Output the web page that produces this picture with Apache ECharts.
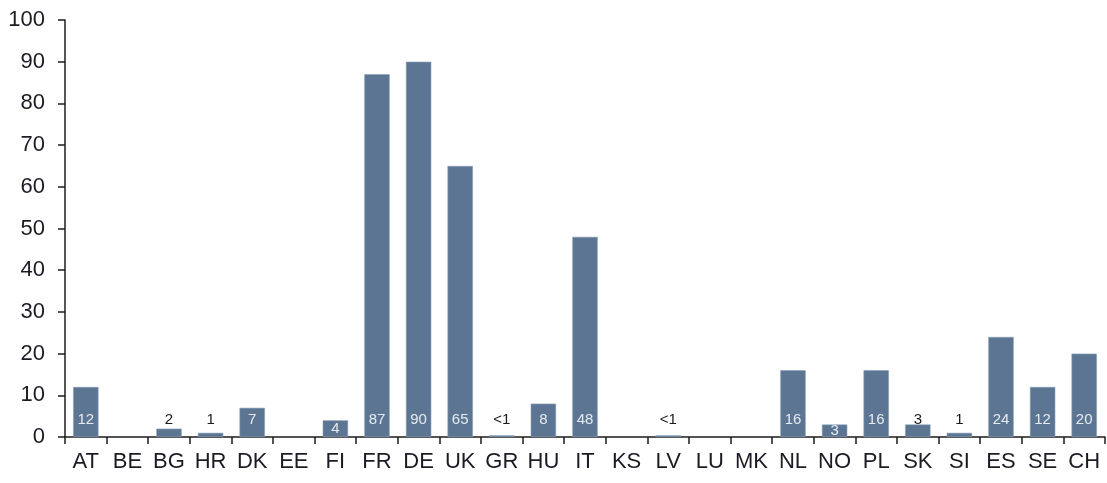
<!DOCTYPE html>
<html>
<head>
<meta charset="utf-8">
<script src="https://cdn.jsdelivr.net/npm/echarts@6/dist/echarts.min.js"></script>
<style>
  html, body { margin: 0; padding: 0; background: #ffffff; }
  #chart { width: 1107px; height: 483px; }
</style>
</head>
<body>
<div id="chart"></div>
<script>
// Country codes along the x axis
const countries = ['AT', 'BE', 'BG', 'HR', 'DK', 'EE', 'FI', 'FR', 'DE', 'UK', 'GR', 'HU', 'IT',
  'KS', 'LV', 'LU', 'MK', 'NL', 'NO', 'PL', 'SK', 'SI', 'ES', 'SE', 'CH'];

// Bar values (null = no bar)
const values = [12, null, 2, 1, 7, null, 4, 87, 90, 65, 0.4, 8, 48,
  null, 0.4, null, null, 16, 3, 16, 3, 1, 24, 12, 20];

// Text printed on each bar ('' = none)
const valueLabels = ['12', '', '2', '1', '7', '', '4', '87', '90', '65', '<1', '8', '48',
  '', '<1', '', '', '16', '3', '16', '3', '1', '24', '12', '20'];

// Where each label sits: 'b' near the bar foot (light), 'c' centred in the bar (light),
// 'a' above a very short bar (dark)
const labelPlace = ['b', '', 'a', 'a', 'b', '', 'c', 'b', 'b', 'b', 'a', 'b', 'b',
  '', 'a', '', '', 'b', 'c', 'b', 'a', 'a', 'b', 'b', 'b'];

// Y axis ticks
const yMin = 0, yMax = 100, yStep = 10;

const narrow = "'Liberation Sans Narrow', 'Arial Narrow', 'Liberation Sans', Arial, sans-serif";
const barColor = '#5b7593';
const axisColor = '#1c1c1c';

const chart = echarts.init(document.getElementById('chart'), null, { renderer: 'canvas' });

const seriesData = values.map((v, i) => ({
  value: v,
  label: {
    formatter: valueLabels[i],
    position: labelPlace[i] === 'c' ? 'inside' : 'insideBottom',
    color: labelPlace[i] === 'a' ? '#1a1a1a' : '#e6ebf2'
  }
}));

chart.setOption({
  animation: false,
  backgroundColor: '#ffffff',
  grid: { left: 65, right: 2, top: 20, bottom: 46, containLabel: false },
  xAxis: {
    type: 'category',
    data: countries,
    boundaryGap: true,
    axisLine: { show: true, lineStyle: { color: axisColor, width: 1.5 } },
    axisTick: { show: true, alignWithLabel: false, length: 7, lineStyle: { color: axisColor, width: 1.5 } },
    axisLabel: { color: '#1e1a24', fontFamily: narrow, fontSize: 22, margin: 14, interval: 0 },
    splitLine: { show: false }
  },
  yAxis: {
    type: 'value',
    min: yMin,
    max: yMax,
    interval: yStep,
    axisLine: { show: true, lineStyle: { color: axisColor, width: 1.5 } },
    axisTick: { show: true, length: 7, lineStyle: { color: axisColor, width: 1.5 } },
    axisLabel: { color: '#1e1a24', fontFamily: narrow, fontSize: 22, margin: 20 },
    splitLine: { show: false }
  },
  series: [{
    type: 'bar',
    data: seriesData,
    barWidth: '61%',
    itemStyle: { color: barColor, borderColor: '#8aa0b8', borderWidth: 0.6 },
    label: {
      show: true,
      position: 'insideBottom',
      distance: 10,
      fontFamily: narrow,
      fontSize: 15
    }
  }]
});
</script>
</body>
</html>
